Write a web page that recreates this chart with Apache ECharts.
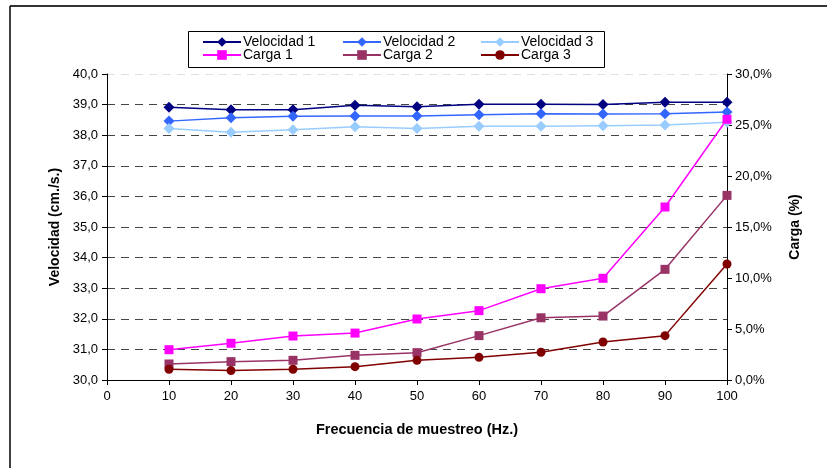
<!DOCTYPE html>
<html>
<head>
<meta charset="utf-8">
<script src="https://cdn.jsdelivr.net/npm/echarts@6/dist/echarts.min.js"></script>
<style>
  html, body { margin: 0; padding: 0; background: #fff; }
  #chart { width: 827px; height: 468px; }
</style>
</head>
<body>
<div id="chart"></div>
<script>
// Sampling frequency (Hz)
const frecuencias = [10, 20, 30, 40, 50, 60, 70, 80, 90, 100];

// Speed (cm/s)
const velocidad1 = [38.91, 38.83, 38.83, 38.98, 38.93, 39.01, 39.01, 39.00, 39.08, 39.08];
const velocidad2 = [38.46, 38.57, 38.62, 38.63, 38.63, 38.67, 38.70, 38.69, 38.70, 38.76];
const velocidad3 = [38.22, 38.10, 38.18, 38.28, 38.22, 38.29, 38.29, 38.31, 38.33, 38.42];

// Load (%)
const carga1 = [2.97, 3.60, 4.31, 4.60, 5.98, 6.80, 8.95, 9.97, 16.96, 25.56];
const carga2 = [1.57, 1.80, 1.93, 2.42, 2.68, 4.35, 6.10, 6.27, 10.85, 18.10];
const carga3 = [1.05, 0.92, 1.05, 1.31, 1.93, 2.22, 2.72, 3.73, 4.35, 11.37];

const FONT = 'Liberation Sans, Arial, sans-serif';
const comma = (v) => v.toFixed(1).replace('.', ',');

function pts(values) {
  return frecuencias.map((f, i) => [f, values[i]]);
}

function serie(name, values, color, symbol, size, yAxisIndex) {
  return {
    name: name,
    type: 'line',
    yAxisIndex: yAxisIndex,
    data: pts(values),
    symbol: symbol,
    symbolSize: size,
    showAllSymbol: true,
    lineStyle: { color: color, width: 1.5 },
    itemStyle: { color: color },
    emphasis: { disabled: true },
    animation: false
  };
}

const series = [
  serie('Velocidad 1', velocidad1, '#000080', 'diamond', 11, 0),
  serie('Velocidad 2', velocidad2, '#3366FF', 'diamond', 11, 0),
  serie('Velocidad 3', velocidad3, '#99CCFF', 'diamond', 11, 0),
  serie('Carga 1', carga1, '#FF00FF', 'rect', 9, 1),
  serie('Carga 2', carga2, '#993366', 'rect', 9, 1),
  serie('Carga 3', carga3, '#800000', 'circle', 9, 1)
];

// one legend block per entry, laid out in a 3x2 grid
const legendPos = [
  ['Velocidad 1', 202, 35], ['Velocidad 2', 342, 35], ['Velocidad 3', 480, 35],
  ['Carga 1', 202, 48], ['Carga 2', 342, 48], ['Carga 3', 480, 48]
];
const legends = legendPos.map(([name, x, y]) => ({
  data: [name],
  left: x,
  top: y,
  padding: 0,
  itemWidth: 38,
  itemHeight: 12,
  itemGap: 4,
  selectedMode: false,
  textStyle: { fontFamily: FONT, fontSize: 14, color: '#000', padding: [0, 0, 0, -3] }
}));

const gridColors = ['#444', '#444', '#444', '#444', '#444', '#444', '#444', '#444', '#444', '#444', '#e0e0e0'];

const chart = echarts.init(document.getElementById('chart'), null, { renderer: 'canvas' });
chart.setOption({
  backgroundColor: '#fff',
  animation: false,
  legend: legends,
  grid: { left: 107, right: 100, top: 74, bottom: 88 },
  xAxis: {
    type: 'value',
    min: 0,
    max: 100,
    interval: 10,
    name: 'Frecuencia de muestreo (Hz.)',
    nameLocation: 'middle',
    nameGap: 42,
    nameTextStyle: { fontFamily: FONT, fontSize: 14.5, fontWeight: 'bold', color: '#000' },
    axisLine: { lineStyle: { color: '#000', width: 1 } },
    axisTick: { length: 5, lineStyle: { color: '#000' } },
    axisLabel: { fontFamily: FONT, fontSize: 13, color: '#000', margin: 10 },
    splitLine: { show: false }
  },
  yAxis: [
    {
      type: 'value',
      min: 30,
      max: 40,
      interval: 1,
      name: 'Velocidad (cm./s.)',
      nameLocation: 'middle',
      nameGap: 45,
      nameRotate: 90,
      nameTextStyle: { fontFamily: FONT, fontSize: 14, fontWeight: 'bold', color: '#000' },
      axisLine: { show: true, lineStyle: { color: '#000', width: 1 } },
      axisTick: { show: true, length: 5, lineStyle: { color: '#000' } },
      axisLabel: { fontFamily: FONT, fontSize: 13, color: '#000', margin: 9, formatter: comma },
      splitLine: { show: true, lineStyle: { color: gridColors, type: [8, 6], width: 1 } }
    },
    {
      type: 'value',
      min: 0,
      max: 30,
      interval: 5,
      position: 'right',
      name: 'Carga (%)',
      nameLocation: 'middle',
      nameGap: 61,
      nameRotate: 90,
      nameTextStyle: { fontFamily: FONT, fontSize: 14, fontWeight: 'bold', color: '#000' },
      axisLine: { show: true, lineStyle: { color: '#000', width: 1 } },
      axisTick: { show: true, length: 5, lineStyle: { color: '#000' } },
      axisLabel: { fontFamily: FONT, fontSize: 13, color: '#000', margin: 8, formatter: (v) => comma(v) + '%' },
      splitLine: { show: false }
    }
  ],
  series: series,
  graphic: [
    // outer frame
    { type: 'line', shape: { x1: 10, y1: 6, x2: 827, y2: 6 }, style: { stroke: '#333', lineWidth: 2 }, silent: true },
    { type: 'line', shape: { x1: 10, y1: 6, x2: 10, y2: 468 }, style: { stroke: '#000', lineWidth: 1.5 }, silent: true },
    // legend box
    { type: 'rect', shape: { x: 188.5, y: 31.5, width: 416, height: 36 }, style: { fill: 'none', stroke: '#000', lineWidth: 1 }, silent: true, z: -1 }
  ]
});
</script>
</body>
</html>
